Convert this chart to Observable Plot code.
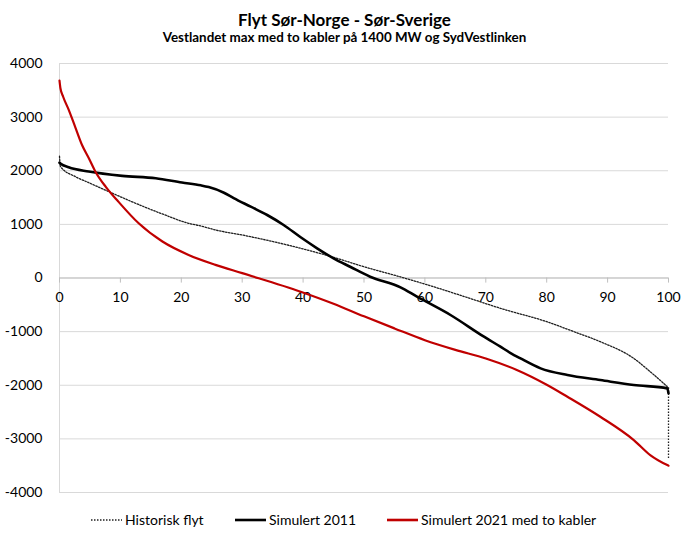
<!DOCTYPE html>
<html><head><meta charset="utf-8">
<script src="https://cdn.jsdelivr.net/npm/d3@7"></script>
<script src="https://cdn.jsdelivr.net/npm/@observablehq/plot@0.6"></script>
<style>
body{margin:0;background:#fff;font-family:Lato,"Open Sans",sans-serif;color:#000;}
#wrap{width:689px;position:relative;}
#head{height:50px;position:relative;}
#t1{position:absolute;top:10px;width:100%;text-align:center;font-weight:bold;font-size:17px;line-height:19px;}
#t2{position:absolute;top:30px;width:100%;text-align:center;font-weight:bold;font-size:13.4px;line-height:15px;}
#legend{position:relative;height:32px;font-size:14px;}
.item{position:absolute;top:7px;display:flex;align-items:center;white-space:nowrap;line-height:16px;}
.item svg{margin-right:3px;}
</style></head><body>
<div id="wrap">
<div id="head"><div id="t1"></div><div id="t2"></div></div>
<div id="chart"></div>
<div id="legend"></div>
</div>
<script>
const title = "Flyt Sør-Norge - Sør-Sverige";
const subtitle = "Vestlandet max med to kabler på 1400 MW og SydVestlinken";
const seriesNames = ["Historisk flyt", "Simulert 2011", "Simulert 2021 med to kabler"];

const xTicks = [0,10,20,30,40,50,60,70,80,90,100];
const yTicks = [-4000,-3000,-2000,-1000,0,1000,2000,3000,4000];

// Historisk flyt
const histX = [0,0.15,2.6,4.8,8.1,12.5,16.9,21.2,23.2,25.6,30,39.6,45,50,56,61.4,66.9,72.4,80,84.5,88.8,94.3,97,99.5,100];
const histY = [2270,2080,1890,1778,1610,1393,1194,1020,970,896,802,554,386,210,20,-162,-362,-565,-815,-1002,-1188,-1499,-1748,-1996,-2050];
const histDrop = [-2050, -3364];

// Simulert 2011
const sim11X = [0,0.2,1.5,4.8,10.3,15.8,20.1,23.2,24.5,27,28.6,31.4,34.1,36.8,39.6,42.3,45,47.8,51,56,58.7,64.2,69.7,72.4,74,75.7,79,83.4,88.8,94.3,99.8,100];
const sim11Y = [2150,2130,2065,1985,1905,1860,1780,1728,1695,1590,1490,1330,1175,989,759,554,367,205,24,-174,-348,-690,-1095,-1281,-1394,-1499,-1685,-1810,-1903,-1996,-2058,-2150];

// Simulert 2021 med to kabler
const sim21X = [0,0.15,0.6,1.5,2.6,3.7,4.82,5.9,7.6,9.7,13,16.9,21.2,25.6,30,39.6,45,50,55,60,65,70,75,80,83.4,88.8,94.3,97,99.8,100];
const sim21Y = [3680,3540,3380,3140,2810,2481,2233,1983,1700,1420,1020,680,430,245,90,-255,-480,-715,-940,-1160,-1340,-1500,-1710,-1990,-2214,-2587,-3022,-3302,-3489,-3500];

document.getElementById("t1").textContent = title;
document.getElementById("t2").textContent = subtitle;

const toRows = (xs, ys) => xs.map((x, i) => ({x, y: ys[i]}));
const hist = toRows(histX, histY);
const sim11 = toRows(sim11X, sim11Y);
const sim21 = toRows(sim21X, sim21Y);

const grid = "#d9d9d9";
const axisCol = "#bfbfbf";
const red = "#c00000";
const dotCol = "#202020";
const dash = "1.5,1.5";

const chart = Plot.plot({
  width: 689, height: 455,
  marginLeft: 59, marginRight: 21, marginTop: 13, marginBottom: 13,
  x: {domain: [0, 100], axis: null},
  y: {domain: [-4000, 4000], axis: null},
  style: {fontFamily: "Lato, 'Open Sans', sans-serif", fontSize: "14px", color: "#000", background: "#fff"},
  marks: [
    Plot.ruleY(yTicks, {stroke: grid, strokeWidth: 1}),
    Plot.ruleX([0], {stroke: grid, strokeWidth: 1}),
    Plot.axisY(yTicks, {tickSize: 0, tickPadding: 17, label: null, tickFormat: d => String(d), fontSize: 14}),
    Plot.ruleY([0], {stroke: axisCol, strokeWidth: 1}),
    Plot.ruleX(xTicks, {x: d => d, y1: 0, y2: -95, stroke: axisCol, strokeWidth: 1}),
    Plot.text(xTicks, {x: d => d, y: 0, dy: 20, text: d => String(d), fontSize: 14, fill: "#000"}),
    Plot.line(hist, {x: "x", y: "y", stroke: dotCol, strokeWidth: 1.3, strokeDasharray: dash, curve: "monotone-x"}),
    Plot.ruleX([100], {y1: histDrop[0], y2: histDrop[1], stroke: dotCol, strokeWidth: 1.3, strokeDasharray: dash}),
    Plot.line(sim11, {x: "x", y: "y", stroke: "#000", strokeWidth: 2.6, curve: "monotone-x"}),
    Plot.line(sim21, {x: "x", y: "y", stroke: red, strokeWidth: 2.2, curve: "monotone-x"})
  ]
});
document.getElementById("chart").appendChild(chart);

// legend
const legendItems = [
  {name: seriesNames[0], left: 91, stroke: dotCol, width: 1.3, dash: dash},
  {name: seriesNames[1], left: 235, stroke: "#000", width: 2.6, dash: null},
  {name: seriesNames[2], left: 387, stroke: red, width: 2.6, dash: null}
];
const leg = document.getElementById("legend");
for (const it of legendItems) {
  const div = document.createElement("div");
  div.className = "item";
  div.style.left = it.left + "px";
  div.innerHTML = `<svg width="31" height="6"><line x1="0" x2="31" y1="3" y2="3" stroke="${it.stroke}" stroke-width="${it.width}" ${it.dash ? `stroke-dasharray="${it.dash}"` : ""}/></svg><span></span>`;
  div.querySelector("span").textContent = it.name;
  leg.appendChild(div);
}
</script>
</body></html>
